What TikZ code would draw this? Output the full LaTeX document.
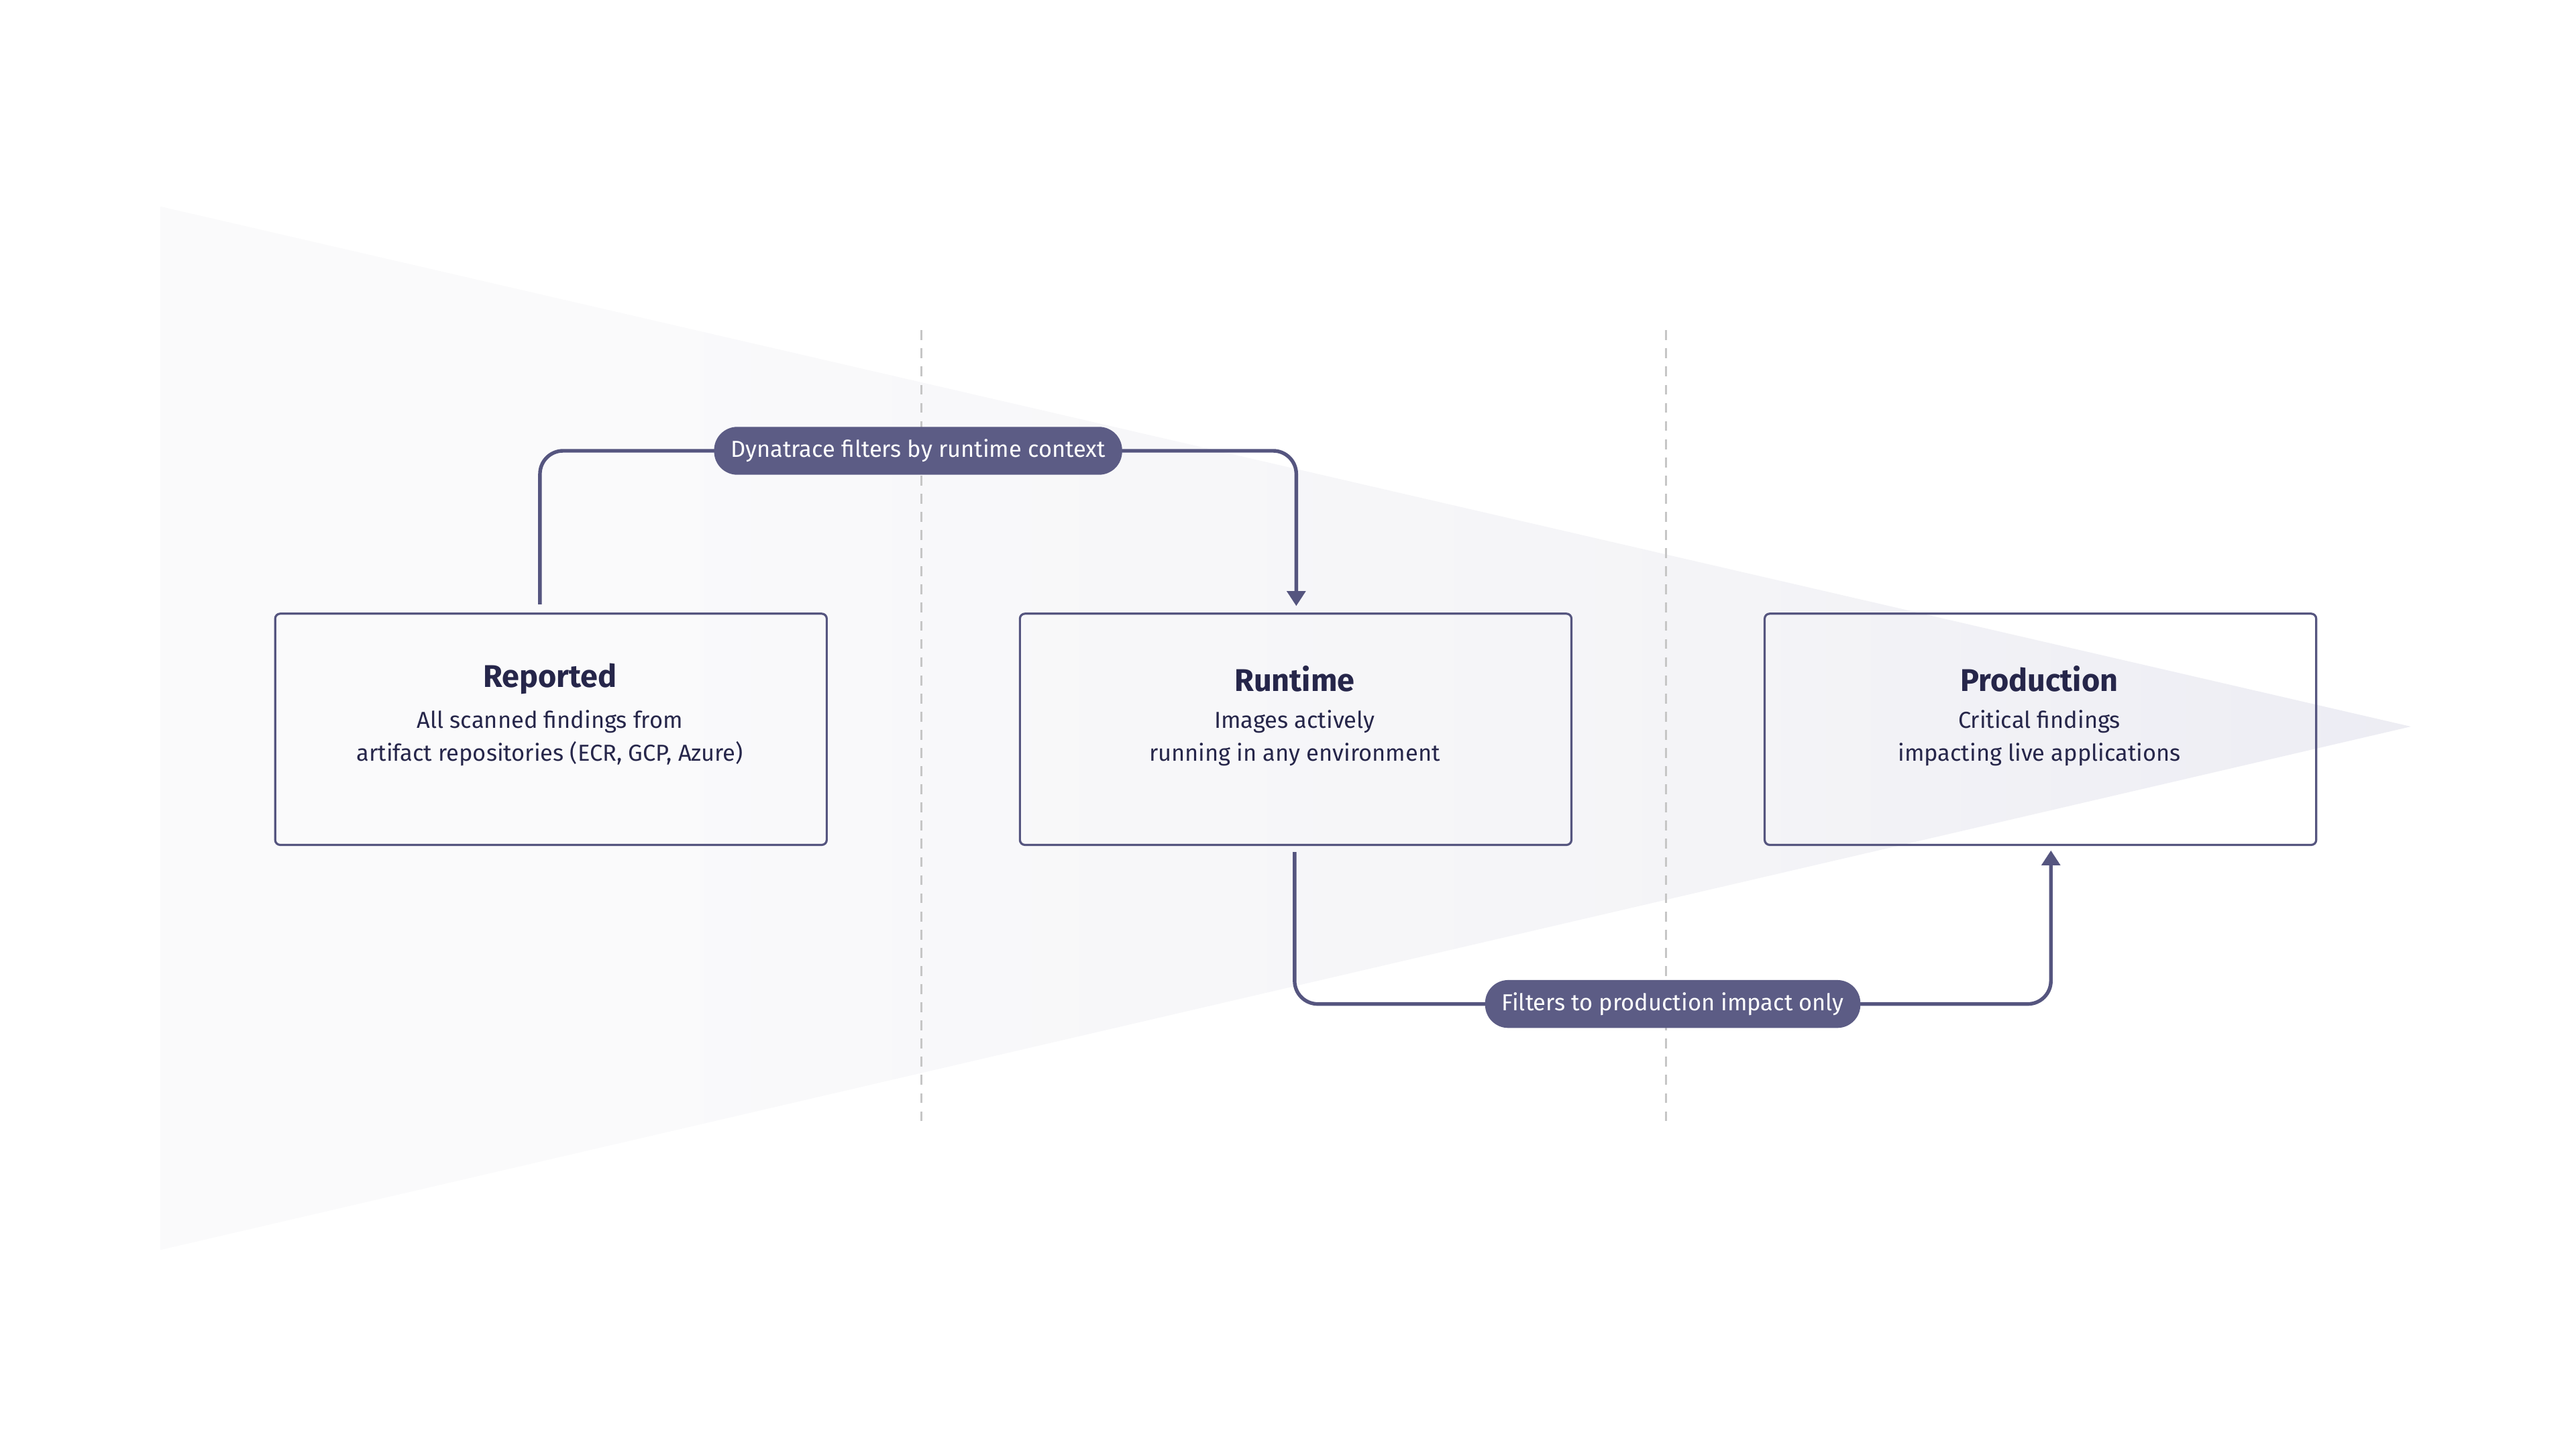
\documentclass[tikz,border=0pt]{standalone}
\usepackage{fontspec}
\setmainfont{Fira Sans}
\usetikzlibrary{arrows.meta,shadings}
\definecolor{ln}{HTML}{55557F}
\definecolor{txt}{HTML}{26264A}
\definecolor{pill}{HTML}{5C5C85}
\definecolor{tl}{HTML}{FAFAFB}
\definecolor{tm}{HTML}{F4F4F7}
\definecolor{tr}{HTML}{E0E0ED}
\pgfdeclarehorizontalshading{tri}{100bp}{color(0bp)=(tl); color(35bp)=(tl); color(60bp)=(tm); color(100bp)=(tr)}
\tikzset{
 box/.style={draw=ln,line width=1.3pt,rounded corners=3pt,minimum width=334pt,minimum height=140pt,anchor=north west},
 conn/.style={draw=ln,line width=2.2pt,rounded corners=14pt},
 tag/.style={fill=pill,text=white,rounded corners=14pt,minimum height=29pt,inner xsep=10pt,font=\fontsize{14}{16}\selectfont},
 ttl/.style={text=txt,font=\bfseries\fontsize{19}{22}\selectfont},
 bod/.style={text=txt,align=center,font=\fontsize{14}{20}\selectfont},
 sep/.style={draw=gray!45,line width=1pt,dash pattern=on 6pt off 5pt}
}
\begin{document}
\begin{tikzpicture}[x=1pt,y=-1pt]
\useasboundingbox (0,0) rectangle (1560,877.5);
\shade[shading=tri] (97,125) -- (1460,440) -- (97,757) -- cycle;
\draw[sep] (558,200) -- (558,680);
\draw[sep] (1009,200) -- (1009,680);
\node[box] (rep) at (166,371) {};
\node[box] (run) at (617,371) {};
\node[box] (pro) at (1068,371) {};
\node[ttl] (rept) at (333,411) {Reported};
\node[bod] (repb) at (333,447) {All scanned findings from\\artifact repositories (ECR, GCP, Azure)};
\node[ttl] (runt) at (784,411) {Runtime};
\node[bod] (runb) at (784,447) {Images actively\\running in any environment};
\node[ttl] (prot) at (1235,411) {Production};
\node[bod] (prob) at (1235,447) {Critical findings\\impacting live applications};
\coordinate (a1) at (327,366);
\coordinate (a2) at (785,367);
\draw[conn,-{Triangle[length=9pt,width=11pt]}] (a1) |- (556,273) -| (a2);
\node[tag] (l1) at (556,273) {Dynatrace filters by runtime context};
\coordinate (b1) at (784,516);
\coordinate (b2) at (1242,515);
\draw[conn,-{Triangle[length=9pt,width=11pt]}] (b1) |- (1013,608) -| (b2);
\node[tag] (l2) at (1013,608) {Filters to production impact only};
\end{tikzpicture}
\end{document}
